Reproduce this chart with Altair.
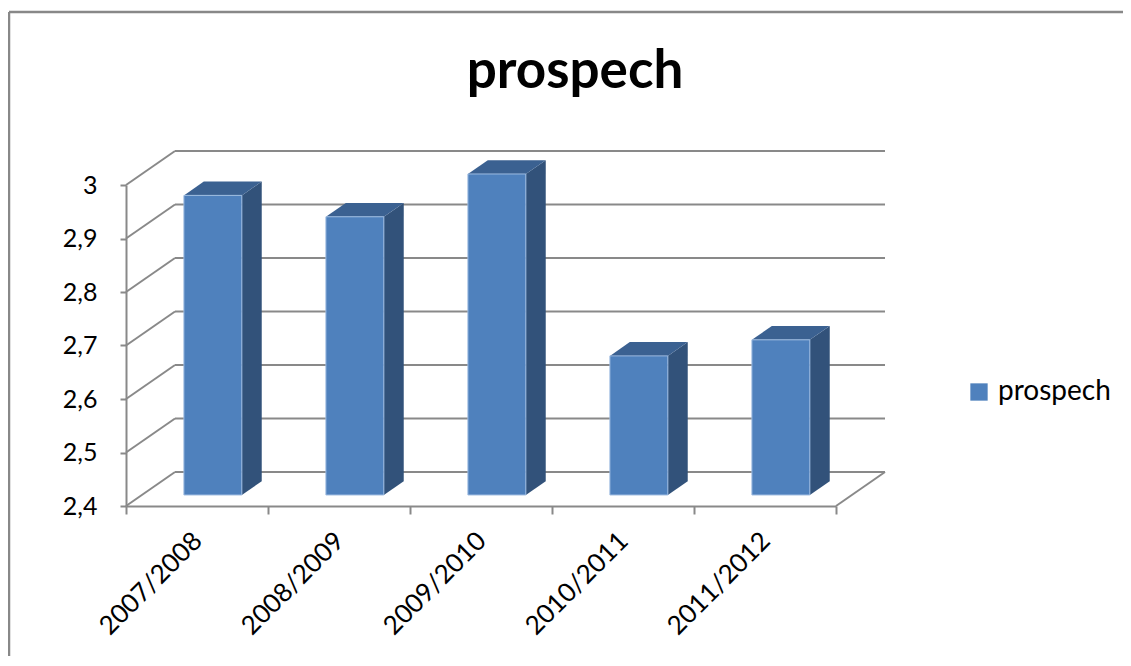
import altair as alt
import pandas as pd

# ---- data ----
categories = ["2007/2008", "2008/2009", "2009/2010", "2010/2011", "2011/2012"]
values = [2.96, 2.92, 3.00, 2.66, 2.69]
y_ticks = [2.4, 2.5, 2.6, 2.7, 2.8, 2.9, 3.0]
series_name = "prospech"
chart_title = "prospech"

# ---- layout / pseudo-3D geometry ----
W, H = 710, 321
Y_MIN, Y_MAX = 2.4, 3.0
N = len(categories)
DEPTH_PX = (49, 34)                      # wall depth in pixels (x right, y up)
dxu = DEPTH_PX[0] / (W / N)              # depth expressed in x data units
dyu = DEPTH_PX[1] / (H / (Y_MAX - Y_MIN))  # depth expressed in y data units
F0, F1 = 0.324, 0.73                     # bar front / back within the depth
HW = 0.204                               # half bar width (category units)

FONT = "Lato"
GRID = "#898989"
FRONT = "#4f81bd"
SIDE = "#32527a"
TOP = "#3b6191"

front_rows, side_rows, top_rows, label_rows = [], [], [], []
for i, (c, v) in enumerate(zip(categories, values)):
    cx = i + 0.5
    front_rows.append(dict(cat=c, series=series_name,
                           x0=cx - HW + F0 * dxu, x1=cx + HW + F0 * dxu,
                           y0=Y_MIN + F0 * dyu, y1=v + F0 * dyu))
    for f in (F0, F1):
        side_rows.append(dict(bar=c, x=cx + HW + f * dxu,
                              ytop=v + f * dyu, ybot=Y_MIN + f * dyu))
        top_rows.append(dict(bar=c, y=v + f * dyu,
                             xl=cx - HW + f * dxu, xr=cx + HW + f * dxu))
    label_rows.append(dict(cat=c, x=cx, y=Y_MIN))

grid_rows = [dict(x0=dxu, x1=N + dxu, y=t + dyu) for t in y_ticks]
diag_rows = [dict(x0=0, x1=dxu, y0=t, y1=t + dyu) for t in y_ticks]
diag_rows.append(dict(x0=N, x1=N + dxu, y0=Y_MIN, y1=Y_MIN + dyu))

front_df = pd.DataFrame(front_rows)
side_df = pd.DataFrame(side_rows)
top_df = pd.DataFrame(top_rows)
label_df = pd.DataFrame(label_rows)
grid_df = pd.DataFrame(grid_rows)
diag_df = pd.DataFrame(diag_rows)

xs = alt.Scale(domain=[0, N], nice=False, zero=False)
ys = alt.Scale(domain=[Y_MIN, Y_MAX], nice=False, zero=False)

x_axis = alt.Axis(values=list(range(N + 1)), labels=False, title=None, grid=False,
                  tickSize=8, tickColor=GRID, tickWidth=2,
                  domainColor=GRID, domainWidth=2)
y_axis = alt.Axis(values=y_ticks, title=None, grid=False,
                  labelExpr="replace(format(datum.value, '.1~f'), '.', ',')",
                  labelFont=FONT, labelFontSize=25, labelColor="#000000",
                  labelPadding=23, tickSize=6, tickColor=GRID, tickWidth=2,
                  domainColor=GRID, domainWidth=2)

grid = alt.Chart(grid_df).mark_rule(color=GRID, strokeWidth=2).encode(
    x=alt.X("x0:Q", scale=xs, axis=x_axis),
    x2="x1:Q",
    y=alt.Y("y:Q", scale=ys, axis=y_axis),
)

diag = alt.Chart(diag_df).mark_rule(color=GRID, strokeWidth=2).encode(
    x=alt.X("x0:Q", scale=xs, axis=x_axis),
    x2="x1:Q",
    y=alt.Y("y0:Q", scale=ys, axis=y_axis),
    y2="y1:Q",
)

side = alt.Chart(side_df).mark_area(orient="vertical", color=SIDE).encode(
    x=alt.X("x:Q", scale=xs, axis=x_axis),
    y=alt.Y("ytop:Q", scale=ys, axis=y_axis),
    y2="ybot:Q",
    detail="bar:N",
)

top = alt.Chart(top_df).mark_area(orient="horizontal", color=TOP).encode(
    y=alt.Y("y:Q", scale=ys, axis=y_axis),
    x=alt.X("xl:Q", scale=xs, axis=x_axis),
    x2="xr:Q",
    detail="bar:N",
)

front = alt.Chart(front_df).mark_rect(stroke="#9dbbe0", strokeWidth=1).encode(
    x=alt.X("x0:Q", scale=xs, axis=x_axis),
    x2="x1:Q",
    y=alt.Y("y0:Q", scale=ys, axis=y_axis),
    y2="y1:Q",
    color=alt.Color("series:N",
                    scale=alt.Scale(domain=[series_name], range=[FRONT]),
                    legend=alt.Legend(title=None, orient="none", legendX=839, legendY=193,
                                      symbolType="square", symbolSize=300,
                                      symbolStrokeWidth=0, labelFont=FONT,
                                      labelFontSize=28, labelOffset=5, padding=0)),
)

labels = alt.Chart(label_df).mark_text(
    angle=315, align="right", baseline="middle", font=FONT, fontSize=26,
    color="#000000", xOffset=1, yOffset=31
).encode(
    x=alt.X("x:Q", scale=xs, axis=x_axis),
    y=alt.Y("y:Q", scale=ys, axis=y_axis),
    text="cat:N",
)

title = alt.Chart(pd.DataFrame({"t": [chart_title]})).mark_text(
    font=FONT, fontSize=53, fontWeight="bold", color="#000000",
    align="center", baseline="alphabetic"
).encode(x=alt.value(449), y=alt.value(-97), text="t:N")

frame_top = alt.Chart(pd.DataFrame({"k": [0]})).mark_rule(color="#888888", strokeWidth=2.5).encode(
    x=alt.value(-117), x2=alt.value(1100), y=alt.value(-173))
frame_left = alt.Chart(pd.DataFrame({"k": [0]})).mark_rule(color="#888888", strokeWidth=2.5).encode(
    x=alt.value(-117), y=alt.value(-173), y2=alt.value(600))

chart = alt.layer(frame_top, frame_left, grid, diag, side, top, front, labels, title).properties(
    width=W, height=H,
    autosize=alt.AutoSizeParams(type="none"),
    padding={"left": 118, "top": 177, "right": 287, "bottom": 150},
    background="white",
).configure_view(stroke=None)

chart.save("out.html", embed_options={"renderer": "svg", "actions": False})
